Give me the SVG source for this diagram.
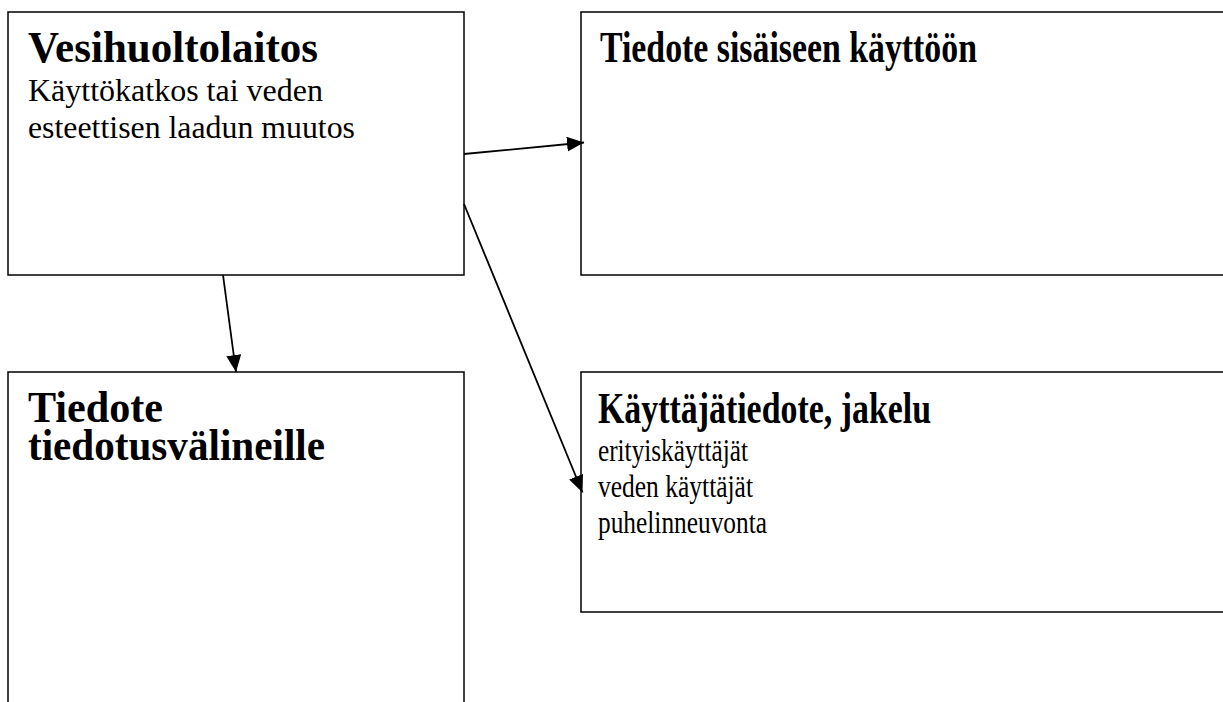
<svg xmlns="http://www.w3.org/2000/svg" width="1223" height="702" viewBox="0 0 1223 702">
<style>
.box{fill:#fff;stroke:#000;stroke-width:1.5}
.t{font-family:"Liberation Serif","Times New Roman",serif;font-weight:bold;font-size:44px;fill:#000}
.b{font-family:"Liberation Serif","Times New Roman",serif;font-size:32px;fill:#000}
.c{stroke:#000;stroke-width:1.8;fill:none}
</style>
<defs>
<marker id="ah" markerWidth="17" markerHeight="15" refX="17" refY="7.5" orient="auto" markerUnits="userSpaceOnUse">
<path d="M0,0 L17,7.5 L0,15 Z" fill="#000"/>
</marker>
</defs>
<rect width="1223" height="702" fill="#fff"/>
<g id="vesihuoltolaitos">
<rect class="box" x="8" y="12" width="456" height="263"/>
<text class="t" x="28" y="62" textLength="290" lengthAdjust="spacingAndGlyphs">Vesihuoltolaitos</text>
<text class="b" x="28" y="101" textLength="295" lengthAdjust="spacingAndGlyphs">Käyttökatkos tai veden</text>
<text class="b" x="28" y="137.5" textLength="327" lengthAdjust="spacingAndGlyphs">esteettisen laadun muutos</text>
</g>
<g id="sisainen">
<rect class="box" x="581" y="12" width="660" height="263"/>
<text class="t" x="600" y="62" textLength="377" lengthAdjust="spacingAndGlyphs">Tiedote sisäiseen käyttöön</text>
</g>
<g id="tiedotusvalineet">
<rect class="box" x="8" y="372" width="456" height="360"/>
<text class="t"><tspan x="28" y="422" textLength="135" lengthAdjust="spacingAndGlyphs">Tiedote</tspan><tspan x="28" y="460" textLength="297" lengthAdjust="spacingAndGlyphs">tiedotusvälineille</tspan></text>
</g>
<g id="kayttajatiedote">
<rect class="box" x="581" y="372" width="660" height="240"/>
<text class="t" x="598" y="423" textLength="333" lengthAdjust="spacingAndGlyphs">Käyttäjätiedote, jakelu</text>
<text class="b" x="598" y="461" textLength="150" lengthAdjust="spacingAndGlyphs">erityiskäyttäjät</text>
<text class="b" x="598" y="497" textLength="155" lengthAdjust="spacingAndGlyphs">veden käyttäjät</text>
<text class="b" x="598" y="533" textLength="169" lengthAdjust="spacingAndGlyphs">puhelinneuvonta</text>
</g>
<g id="connectors">
<line class="c" x1="464" y1="154" x2="584" y2="142.5" marker-end="url(#ah)"/>
<line class="c" x1="223" y1="275" x2="236" y2="372" marker-end="url(#ah)"/>
<line class="c" x1="464" y1="204" x2="582.5" y2="492.5" marker-end="url(#ah)"/>
</g>
</svg>
